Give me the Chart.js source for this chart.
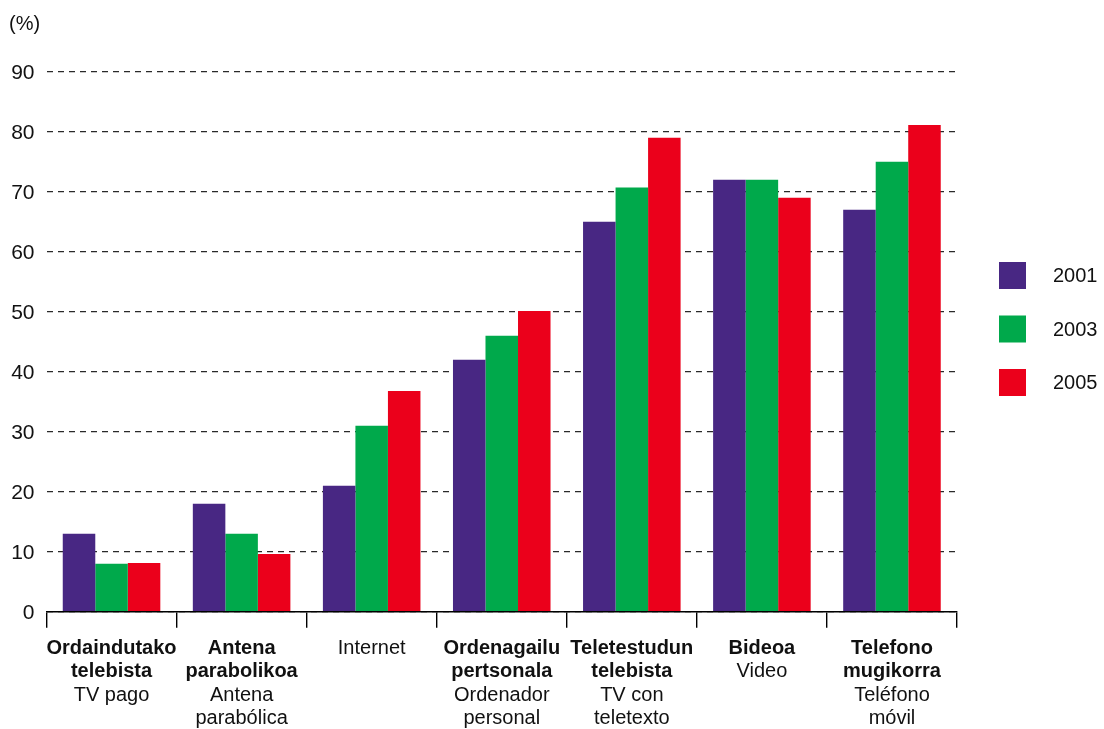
<!DOCTYPE html>
<html>
<head>
<meta charset="utf-8">
<title>Ekipamenduak etxeetan (%)</title>
<script src="https://cdn.jsdelivr.net/npm/chart.js@4/dist/chart.umd.min.js"></script>
<style>
  html, body { margin: 0; padding: 0; background: #ffffff; }
  canvas { display: block; }
</style>
</head>
<body>
<canvas id="chart" width="1104" height="729"></canvas>
<script>
// Category labels: Basque name (bold) followed by Spanish name (regular)
const categoriesBold = [
  ["Ordaindutako", "telebista"],
  ["Antena", "parabolikoa"],
  [],
  ["Ordenagailu", "pertsonala"],
  ["Teletestudun", "telebista"],
  ["Bideoa"],
  ["Telefono", "mugikorra"]
];
const categoriesRegular = [
  ["TV pago"],
  ["Antena", "parabólica"],
  ["Internet"],
  ["Ordenador", "personal"],
  ["TV con", "teletexto"],
  ["Video"],
  ["Teléfono", "móvil"]
];

// Series values (%)
const years = ["2001", "2003", "2005"];
const values2001 = [13, 18, 21, 42, 65, 72, 67];
const values2003 = [8, 13, 31, 46, 70.7, 72, 75];
const values2005 = [8.1, 9.6, 36.8, 50.1, 79, 69, 81.1];

// Y axis tick settings
const yMin = 0;
const yMax = 90;
const yStep = 10;
const yUnit = "(%)";

const colors = ["#482783", "#00A94B", "#EB001B"];
const FONT = "'Liberation Sans', Arial, Helvetica, sans-serif";

const labels = categoriesBold.map((b, i) => b.concat(categoriesRegular[i]).join(" "));

// Draws the two-style category labels, the unit label and the legend
const decorations = {
  id: "decorations",
  afterDraw(chart) {
    const ctx = chart.ctx;
    const x = chart.scales.x;
    ctx.save();
    ctx.fillStyle = "#111111";
    ctx.textAlign = "center";
    ctx.textBaseline = "alphabetic";
    const firstBaseline = 653.5;
    const lineH = 23.6;
    labels.forEach((_, i) => {
      const cx = x.getPixelForValue(i);
      let line = 0;
      ctx.font = "bold 20px " + FONT;
      categoriesBold[i].forEach(t => {
        ctx.fillText(t, cx, firstBaseline + line * lineH);
        line++;
      });
      ctx.font = "20px " + FONT;
      categoriesRegular[i].forEach(t => {
        ctx.fillText(t, cx, firstBaseline + line * lineH);
        line++;
      });
    });

    // unit label above the y axis
    ctx.textAlign = "left";
    ctx.font = "20px " + FONT;
    ctx.fillText(yUnit, 9, 30);

    // legend
    const lx = 999, ly = 262, box = 27, gap = 53.5;
    chart.data.datasets.forEach((ds, i) => {
      const y = ly + i * gap;
      ctx.fillStyle = ds.backgroundColor;
      ctx.fillRect(lx, y, box, box);
      ctx.fillStyle = "#111111";
      ctx.textBaseline = "middle";
      ctx.font = "20px " + FONT;
      ctx.fillText(ds.label, 1053, y + box / 2 + 1);
    });
    ctx.restore();
  }
};

new Chart(document.getElementById("chart"), {
  type: "bar",
  data: {
    labels: labels,
    datasets: [
      { label: years[0], data: values2001, backgroundColor: colors[0] },
      { label: years[1], data: values2003, backgroundColor: colors[1] },
      { label: years[2], data: values2005, backgroundColor: colors[2] }
    ]
  },
  options: {
    responsive: false,
    devicePixelRatio: 1,
    animation: false,
    layout: { padding: { top: 71.7, right: 147, bottom: 0, left: 0 } },
    datasets: {
      bar: { categoryPercentage: 0.75, barPercentage: 1.0, borderWidth: 0 }
    },
    plugins: {
      legend: { display: false },
      tooltip: { enabled: false },
      title: { display: false }
    },
    scales: {
      x: {
        afterFit(scale) { scale.height = 729 - 611.7; },
        ticks: { display: false },
        grid: {
          offset: true,
          drawOnChartArea: false,
          drawTicks: true,
          tickLength: 16,
          color: "#000000",
          lineWidth: 1.4
        },
        border: { display: true, color: "#000000", width: 1.6 }
      },
      y: {
        min: yMin,
        max: yMax,
        afterFit(scale) { scale.width = 46.5; },
        ticks: {
          stepSize: yStep,
          padding: 12,
          labelOffset: 2,
          color: "#111111",
          font: { family: FONT, size: 21 }
        },
        grid: {
          drawTicks: false,
          color: "#2a2a2a",
          lineWidth: 1.3
        },
        border: { display: false, dash: [6, 5] }
      }
    }
  },
  plugins: [decorations]
});
</script>
</body>
</html>
